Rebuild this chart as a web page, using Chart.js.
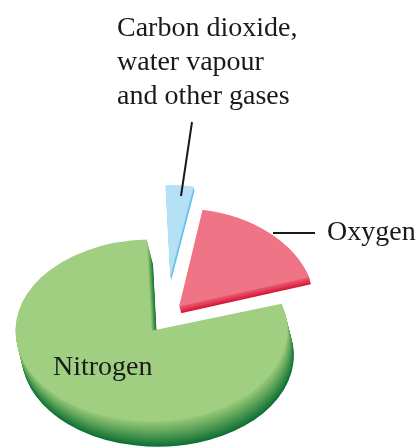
<!DOCTYPE html>
<html>
<head>
<meta charset="utf-8">
<title>Composition of air</title>
<script src="https://cdn.jsdelivr.net/npm/chart.js@4"></script>
<style>
  html, body { margin: 0; padding: 0; background: #fff; }
  #wrap { width: 420px; height: 448px; position: relative; }
</style>
</head>
<body>
<div id="wrap"><canvas id="air-chart"></canvas></div>
<script>
  // Data (order = clockwise from 12 o'clock)
  const gasLabels = ['Carbon dioxide, water vapour and other gases', 'Oxygen', 'Nitrogen'];
  const gasShares = [3.3, 17.5, 79.2];

  // Slice styling
  const faceColours = ['#b4e1f5', '#ee7486', '#a0cf82'];
  const sideLight = [[150, 212, 242], [236, 96, 118], [150, 200, 118]];
  const sideDark = [[80, 188, 232], [214, 24, 56], [14, 112, 52]];
  const sliceDepth = [4, 7, 25];
  const explode = [61, 20, 25];
  const squashX = [1.0, 1.0, 1.0];
  const squashY = [0.67, 0.72, 0.67];

  // Where the (unexploded) pie centre goes on screen
  const pieX = 166;
  const pieY = 317;
  const slant = 0.25;

  function mix(a, b, t) {
    return 'rgb(' + a.map((v, i) => Math.round(v + (b[i] - v) * t)).join(',') + ')';
  }

  function drawSlice(ctx, arc, i, layer, colour) {
    const mid = (arc.startAngle + arc.endAngle) / 2;
    ctx.save();
    ctx.translate(pieX + layer * slant, pieY + layer);
    ctx.scale(squashX[i], squashY[i]);
    ctx.translate(Math.cos(mid) * explode[i] - arc.x, Math.sin(mid) * explode[i] - arc.y);
    const saved = arc.options;
    arc.options = Object.assign({}, saved, { backgroundColor: colour, borderWidth: 0, offset: 0 });
    arc.draw(ctx);
    arc.options = saved;
    ctx.restore();
  }

  // Tilted, exploded pie with a bit of thickness
  const tiltPlugin = {
    id: 'tilt',
    beforeDatasetDraw(chart, args) {
      const ctx = chart.ctx;
      const arcs = args.meta.data;
      arcs.forEach((arc, i) => {
        const d = sliceDepth[i];
        for (let j = d; j >= 1; j--) {
          drawSlice(ctx, arc, i, j, mix(sideLight[i], sideDark[i], Math.pow(j / d, 1.1)));
        }
      });
      arcs.forEach((arc, i) => drawSlice(ctx, arc, i, 0, faceColours[i]));
      return false;
    }
  };

  // Labels and leader lines
  const labelPlugin = {
    id: 'gasLabels',
    afterDraw(chart) {
      const ctx = chart.ctx;
      ctx.save();
      ctx.fillStyle = '#1a1a1a';
      ctx.strokeStyle = '#1a1a1a';
      ctx.font = '28px "Liberation Serif", "DejaVu Serif", serif';
      ctx.textBaseline = 'alphabetic';
      ctx.textAlign = 'left';
      ['Carbon dioxide,', 'water vapour', 'and other gases'].forEach((t, n) => {
        ctx.fillText(t, 117, 36 + n * 34);
      });
      ctx.fillText('Oxygen', 327, 240);
      ctx.fillText('Nitrogen', 53, 375);

      ctx.lineWidth = 2;
      ctx.beginPath();
      ctx.moveTo(192, 122);
      ctx.lineTo(181, 196);
      ctx.moveTo(273, 233);
      ctx.lineTo(315, 233);
      ctx.stroke();
      ctx.restore();
    }
  };

  function initAirChart() {
    const ctx = document.getElementById('air-chart');
    new Chart(ctx, {
      type: 'pie',
      data: {
        labels: gasLabels,
        datasets: [{
          data: gasShares,
          backgroundColor: faceColours,
          borderWidth: 0,
          clip: false
        }]
      },
      options: {
        responsive: true,
        maintainAspectRatio: false,
        animation: false,
        rotation: -2,
        radius: 136,
        events: [],
        plugins: {
          legend: { display: false },
          tooltip: { enabled: false }
        }
      },
      plugins: [tiltPlugin, labelPlugin]
    });
  }

  initAirChart();
</script>
</body>
</html>
